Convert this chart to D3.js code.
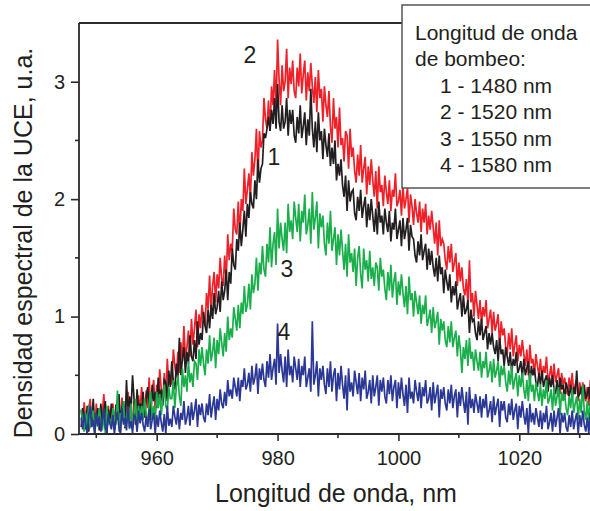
<!DOCTYPE html>
<html lang="es">
<head>
    <meta charset="UTF-8">
    <title>Densidad espectral de la UCE</title>
    <script src="https://d3js.org/d3.v7.min.js"></script>
    <style>
        body {
            margin: 0;
            background: #fff;
        }
        svg {
            display: block;
            font-family: "Liberation Sans", Arial, sans-serif;
        }
    </style>
</head>
<body>
    <svg id="chart" width="590" height="511"></svg>

    <script>
        // sampling grid of the spectra, nm (one row below = 5 nm)
        const waveStart = 947.5;
        const waveStep = 0.25;

        // 1 - 1480 nm (black)
        const serie1 = [
            0.06, 0.22, 0.14, 0.04, 0.24, 0.02, 0.20, 0.12, 0.30, 0.06, 0.14, 0.22, 0.03, 0.26, 0.09, 0.18, 0.28, 0.00, 0.21, 0.10,
            0.26, 0.14, 0.06, 0.25, 0.12, 0.34, 0.10, 0.22, 0.28, 0.05, 0.46, 0.16, 0.32, 0.20, 0.50, 0.30, 0.08, 0.38, 0.18, 0.26,
            0.20, 0.36, 0.14, 0.30, 0.40, 0.24, 0.12, 0.42, 0.28, 0.36, 0.22, 0.48, 0.30, 0.38, 0.24, 0.46, 0.44, 0.28, 0.54, 0.40,
            0.62, 0.44, 0.38, 0.60, 0.48, 0.82, 0.50, 0.64, 0.74, 0.52, 0.70, 0.60, 0.84, 0.66, 0.62, 0.80, 0.64, 0.96, 0.76, 0.86,
            0.80, 1.04, 0.92, 0.86, 1.06, 0.90, 1.10, 0.98, 1.20, 1.02, 1.08, 1.22, 1.04, 1.30, 1.14, 1.22, 1.40, 1.14, 1.38, 1.28,
            1.58, 1.44, 1.40, 1.66, 1.56, 1.80, 1.60, 1.74, 1.90, 1.68, 1.96, 1.84, 2.06, 1.96, 1.92, 2.16, 2.00, 2.34, 2.14, 2.26,
            2.30, 2.56, 2.52, 2.60, 2.70, 2.58, 2.76, 2.64, 2.86, 2.60, 2.98, 2.66, 2.58, 2.80, 2.60, 2.66, 2.86, 2.54, 2.76, 2.64,
            2.76, 2.54, 2.48, 2.70, 2.56, 2.80, 2.52, 2.62, 2.74, 2.46, 2.68, 2.54, 2.94, 2.60, 2.44, 2.66, 2.40, 2.74, 2.50, 2.58,
            2.34, 2.60, 2.46, 2.36, 2.56, 2.28, 2.44, 2.30, 2.50, 2.16, 2.30, 2.20, 2.34, 2.12, 2.02, 2.20, 1.90, 2.16, 1.98, 2.06,
            2.08, 1.88, 1.82, 2.02, 1.90, 2.08, 1.84, 1.94, 2.02, 1.76, 1.96, 1.82, 2.00, 1.86, 1.72, 1.92, 1.70, 1.98, 1.80, 1.86,
            1.70, 1.92, 1.80, 1.72, 1.90, 1.64, 1.80, 1.74, 1.92, 1.66, 1.74, 1.82, 1.60, 1.84, 1.66, 1.74, 1.84, 1.56, 1.78, 1.68,
            1.66, 1.52, 1.46, 1.64, 1.52, 1.70, 1.48, 1.56, 1.62, 1.40, 1.58, 1.44, 1.56, 1.42, 1.34, 1.50, 1.30, 1.52, 1.36, 1.42,
            1.20, 1.40, 1.30, 1.22, 1.36, 1.12, 1.26, 1.18, 1.30, 1.06, 1.14, 1.20, 1.00, 1.18, 1.02, 1.06, 1.14, 0.86, 1.06, 0.96,
            0.98, 0.86, 0.80, 0.96, 0.84, 0.98, 0.80, 0.86, 0.92, 0.72, 0.86, 0.76, 0.86, 0.74, 0.68, 0.80, 0.62, 0.82, 0.68, 0.72,
            0.58, 0.74, 0.66, 0.58, 0.70, 0.52, 0.64, 0.58, 0.70, 0.52, 0.56, 0.62, 0.48, 0.64, 0.50, 0.56, 0.62, 0.42, 0.58, 0.50,
            0.56, 0.44, 0.40, 0.52, 0.42, 0.54, 0.40, 0.46, 0.50, 0.36, 0.48, 0.40, 0.50, 0.38, 0.34, 0.46, 0.32, 0.48, 0.38, 0.42,
            0.30, 0.44, 0.38, 0.32, 0.42, 0.30, 0.40, 0.34, 0.54, 0.32, 0.34, 0.40, 0.28, 0.42, 0.30, 0.34, 0.40, 0.24, 0.38, 0.32
        ];

        // 2 - 1520 nm (red)
        const serie2 = [
            0.20, 0.08, 0.27, 0.12, 0.02, 0.21, 0.30, 0.06, 0.16, 0.00, 0.26, 0.11, 0.22, 0.03, 0.18, 0.34, 0.09, 0.04, 0.24, 0.13,
            0.11, 0.26, 0.03, 0.20, 0.29, 0.13, 0.02, 0.31, 0.16, 0.24, 0.09, 0.36, 0.12, 0.21, 0.06, 0.28, 0.25, 0.10, 0.33, 0.19,
            0.40, 0.24, 0.14, 0.37, 0.22, 0.48, 0.20, 0.36, 0.46, 0.18, 0.42, 0.30, 0.55, 0.38, 0.28, 0.52, 0.30, 0.64, 0.42, 0.50,
            0.42, 0.72, 0.58, 0.48, 0.70, 0.52, 0.78, 0.62, 0.92, 0.64, 0.74, 0.88, 0.66, 0.98, 0.76, 0.90, 1.06, 0.74, 1.02, 0.90,
            1.10, 0.98, 0.92, 1.20, 1.06, 1.35, 1.06, 1.26, 1.38, 1.12, 1.36, 1.24, 1.50, 1.32, 1.26, 1.52, 1.30, 1.70, 1.48, 1.62,
            1.56, 1.92, 1.74, 1.70, 1.98, 1.68, 2.00, 1.90, 2.26, 1.96, 2.08, 2.22, 2.00, 2.40, 2.20, 2.34, 2.60, 2.18, 2.58, 2.44,
            2.50, 2.86, 2.68, 2.60, 2.84, 2.58, 2.96, 2.80, 3.10, 2.76, 3.36, 3.02, 2.80, 3.14, 2.92, 3.00, 3.28, 2.86, 3.12, 2.98,
            3.18, 2.92, 2.86, 3.12, 2.96, 3.24, 2.90, 3.06, 3.18, 2.84, 3.08, 2.92, 3.16, 2.96, 2.82, 3.04, 2.74, 3.10, 2.86, 2.94,
            2.66, 2.96, 2.80, 2.70, 2.92, 2.62, 2.48, 2.86, 2.60, 2.70, 2.44, 2.78, 2.46, 2.52, 2.32, 2.58, 2.54, 2.26, 2.60, 2.36,
            2.44, 2.24, 2.14, 2.38, 2.20, 2.46, 2.14, 2.26, 2.36, 2.04, 2.28, 2.12, 2.34, 2.16, 2.02, 2.24, 1.92, 2.28, 2.06, 2.12,
            1.94, 2.20, 2.06, 1.96, 2.16, 1.90, 2.08, 2.02, 2.22, 1.94, 1.98, 2.08, 1.86, 2.12, 1.92, 2.00, 2.10, 1.80, 2.04, 1.94,
            1.78, 2.00, 1.88, 1.80, 1.98, 1.72, 1.92, 1.80, 1.96, 1.70, 1.86, 1.74, 1.90, 1.76, 1.62, 1.80, 1.52, 1.82, 1.60, 1.66,
            1.62, 1.48, 1.40, 1.60, 1.46, 1.62, 1.38, 1.46, 1.54, 1.26, 1.46, 1.30, 1.42, 1.24, 1.18, 1.32, 1.10, 1.48, 1.12, 1.20,
            1.00, 1.22, 1.10, 0.98, 1.14, 0.94, 1.08, 1.00, 1.14, 0.90, 0.98, 1.06, 0.86, 1.04, 0.88, 0.94, 1.02, 0.74, 0.96, 0.84,
            0.90, 0.74, 0.68, 0.86, 0.72, 0.90, 0.66, 0.76, 0.84, 0.62, 0.76, 0.66, 0.80, 0.68, 0.58, 0.72, 0.50, 0.76, 0.60, 0.64,
            0.50, 0.68, 0.58, 0.50, 0.64, 0.46, 0.58, 0.52, 0.66, 0.44, 0.50, 0.58, 0.42, 0.60, 0.44, 0.50, 0.56, 0.34, 0.52, 0.42,
            0.48, 0.36, 0.34, 0.48, 0.38, 0.52, 0.34, 0.42, 0.46, 0.28, 0.44, 0.34, 0.44, 0.32, 0.28, 0.40, 0.24, 0.46, 0.32, 0.36
        ];

        // 3 - 1550 nm (green)
        const serie3 = [
            0.21, 0.09, 0.02, 0.18, 0.07, 0.25, 0.05, 0.15, 0.20, 0.00, 0.16, 0.06, 0.22, 0.11, 0.03, 0.17, 0.00, 0.24, 0.08, 0.13,
            0.06, 0.22, 0.13, 0.08, 0.37, 0.02, 0.18, 0.11, 0.28, 0.06, 0.14, 0.22, 0.04, 0.26, 0.10, 0.16, 0.30, 0.02, 0.24, 0.12,
            0.24, 0.12, 0.30, 0.18, 0.06, 0.26, 0.36, 0.14, 0.24, 0.10, 0.36, 0.22, 0.34, 0.16, 0.30, 0.42, 0.24, 0.20, 0.40, 0.30,
            0.30, 0.46, 0.22, 0.40, 0.50, 0.32, 0.24, 0.56, 0.40, 0.50, 0.36, 0.62, 0.44, 0.52, 0.40, 0.62, 0.60, 0.46, 0.72, 0.58,
            0.74, 0.60, 0.50, 0.72, 0.60, 0.84, 0.62, 0.70, 0.82, 0.56, 0.80, 0.68, 0.90, 0.78, 0.66, 0.86, 0.70, 1.00, 0.80, 0.90,
            0.82, 1.08, 0.98, 0.88, 1.10, 0.90, 1.12, 1.02, 1.26, 1.04, 1.10, 1.28, 1.06, 1.36, 1.20, 1.28, 1.50, 1.22, 1.46, 1.36,
            1.60, 1.40, 1.34, 1.62, 1.46, 1.76, 1.42, 1.62, 1.72, 1.44, 1.92, 1.58, 1.80, 1.66, 1.56, 1.80, 1.54, 1.96, 1.72, 1.82,
            1.66, 1.98, 1.84, 1.72, 1.96, 1.64, 1.90, 1.80, 2.04, 1.70, 1.78, 1.92, 1.62, 2.06, 1.74, 1.84, 1.98, 1.58, 1.88, 1.76,
            1.86, 1.62, 1.52, 1.80, 1.62, 1.90, 1.56, 1.66, 1.76, 1.44, 1.70, 1.52, 1.74, 1.56, 1.40, 1.62, 1.34, 1.70, 1.46, 1.54,
            1.38, 1.58, 1.26, 1.50, 1.60, 1.36, 1.24, 1.58, 1.40, 1.48, 1.30, 1.56, 1.32, 1.42, 1.26, 1.46, 1.42, 1.22, 1.50, 1.34,
            1.40, 1.24, 1.14, 1.38, 1.22, 1.44, 1.16, 1.30, 1.38, 1.10, 1.30, 1.18, 1.36, 1.20, 1.08, 1.26, 1.02, 1.34, 1.14, 1.20,
            1.00, 1.22, 1.12, 1.02, 1.18, 0.94, 1.10, 1.02, 1.18, 0.92, 0.98, 1.06, 0.86, 1.08, 0.90, 0.96, 1.04, 0.76, 0.98, 0.88,
            0.96, 0.80, 0.74, 0.92, 0.78, 0.96, 0.74, 0.82, 0.88, 0.66, 0.84, 0.72, 0.52, 0.74, 0.64, 0.80, 0.58, 0.82, 0.64, 0.70,
            0.54, 0.72, 0.62, 0.54, 0.70, 0.48, 0.62, 0.56, 0.70, 0.48, 0.54, 0.62, 0.44, 0.64, 0.48, 0.54, 0.62, 0.40, 0.58, 0.50,
            0.58, 0.44, 0.36, 0.54, 0.42, 0.58, 0.38, 0.46, 0.52, 0.32, 0.50, 0.40, 0.52, 0.38, 0.30, 0.46, 0.28, 0.52, 0.36, 0.42,
            0.28, 0.44, 0.36, 0.28, 0.42, 0.24, 0.38, 0.30, 0.46, 0.26, 0.30, 0.38, 0.20, 0.40, 0.24, 0.32, 0.40, 0.16, 0.36, 0.28,
            0.34, 0.22, 0.16, 0.32, 0.22, 0.38, 0.18, 0.26, 0.32, 0.12, 0.30, 0.18, 0.42, 0.20, 0.12, 0.28, 0.08, 0.30, 0.16, 0.22
        ];

        // 4 - 1580 nm (blue)
        const serie4 = [
            0.14, 0.04, 0.18, 0.08, 0.00, 0.16, 0.24, 0.06, 0.12, 0.00, 0.18, 0.07, 0.15, 0.02, 0.11, 0.22, 0.05, 0.02, 0.17, 0.09,
            0.04, 0.16, 0.00, 0.12, 0.19, 0.06, 0.00, 0.22, 0.08, 0.14, 0.03, 0.24, 0.05, 0.11, 0.01, 0.16, 0.14, 0.02, 0.20, 0.09,
            0.18, 0.08, 0.02, 0.15, 0.06, 0.21, 0.04, 0.12, 0.18, 0.00, 0.16, 0.06, 0.20, 0.10, 0.02, 0.17, 0.00, 0.24, 0.07, 0.13,
            0.06, 0.24, 0.15, 0.08, 0.22, 0.04, 0.18, 0.12, 0.28, 0.08, 0.14, 0.24, 0.07, 0.27, 0.12, 0.20, 0.30, 0.06, 0.25, 0.16,
            0.26, 0.14, 0.10, 0.26, 0.16, 0.34, 0.14, 0.24, 0.32, 0.12, 0.30, 0.20, 0.38, 0.26, 0.22, 0.36, 0.24, 0.46, 0.32, 0.38,
            0.30, 0.48, 0.40, 0.32, 0.48, 0.28, 0.46, 0.40, 0.56, 0.38, 0.42, 0.52, 0.36, 0.58, 0.42, 0.48, 0.60, 0.34, 0.56, 0.46,
            0.60, 0.46, 0.40, 0.62, 0.48, 0.68, 0.46, 0.56, 0.64, 0.42, 0.94, 0.52, 0.68, 0.54, 0.44, 0.66, 0.40, 0.72, 0.50, 0.58,
            0.44, 0.66, 0.56, 0.46, 0.64, 0.40, 0.58, 0.50, 0.66, 0.40, 0.48, 0.56, 0.36, 0.96, 0.42, 0.50, 0.62, 0.32, 0.56, 0.46,
            0.58, 0.42, 0.34, 0.56, 0.40, 0.62, 0.36, 0.50, 0.56, 0.28, 0.52, 0.38, 0.58, 0.42, 0.30, 0.50, 0.20, 0.56, 0.36, 0.44,
            0.32, 0.54, 0.44, 0.34, 0.52, 0.28, 0.48, 0.38, 0.54, 0.30, 0.36, 0.46, 0.26, 0.50, 0.32, 0.40, 0.50, 0.24, 0.46, 0.36,
            0.48, 0.32, 0.26, 0.46, 0.34, 0.50, 0.28, 0.40, 0.46, 0.22, 0.44, 0.30, 0.48, 0.34, 0.24, 0.42, 0.18, 0.48, 0.30, 0.36,
            0.26, 0.46, 0.36, 0.28, 0.44, 0.22, 0.40, 0.32, 0.46, 0.26, 0.30, 0.40, 0.20, 0.44, 0.26, 0.34, 0.42, 0.14, 0.38, 0.30,
            0.40, 0.26, 0.20, 0.38, 0.26, 0.42, 0.22, 0.32, 0.38, 0.14, 0.36, 0.24, 0.40, 0.28, 0.18, 0.36, 0.08, 0.40, 0.22, 0.30,
            0.18, 0.34, 0.26, 0.18, 0.32, 0.14, 0.30, 0.22, 0.34, 0.14, 0.20, 0.28, 0.10, 0.32, 0.16, 0.24, 0.30, 0.06, 0.28, 0.20,
            0.28, 0.14, 0.10, 0.26, 0.16, 0.30, 0.12, 0.20, 0.26, 0.04, 0.24, 0.14, 0.28, 0.16, 0.08, 0.22, 0.00, 0.26, 0.10, 0.18,
            0.08, 0.22, 0.14, 0.06, 0.20, 0.04, 0.18, 0.10, 0.24, 0.04, 0.10, 0.18, 0.02, 0.20, 0.06, 0.14, 0.22, 0.00, 0.18, 0.10,
            0.18, 0.06, 0.02, 0.16, 0.06, 0.20, 0.04, 0.12, 0.18, 0.00, 0.16, 0.06, 0.20, 0.08, 0.02, 0.14, 0.00, 0.18, 0.06, 0.12
        ];

        const xTicks = [960, 980, 1000, 1020];
        const xMinorTicks = [950, 970, 990, 1010, 1030];
        const yTicks = [0, 1, 2, 3];
        const yMinorTicks = [0.5, 1.5, 2.5];

        const legendLines = ['Longitud de onda', 'de bombeo:'];
        const legendItems = ['1 - 1480 nm', '2 - 1520 nm', '3 - 1550 nm', '4 - 1580 nm'];

        // drawing order: red, black, green, blue on top
        const series = [
            { name: '2', values: serie2, color: '#ee2129', label: [250, 63] },
            { name: '1', values: serie1, color: '#231f20', label: [274, 165] },
            { name: '3', values: serie3, color: '#1aaf4b', label: [287, 277] },
            { name: '4', values: serie4, color: '#2b3896', label: [284, 340] }
        ];

        const svg = d3.select('#chart');
        const axisColor = '#2b2b2b';
        const textColor = '#231f20';

        const x = d3.scaleLinear().domain([947.14, 1031.7]).range([79, 590]);
        const y = d3.scaleLinear().domain([0, 3.5]).range([434, 23]);

        svg.append('clipPath').attr('id', 'plotClip')
            .append('rect')
            .attr('x', 79).attr('y', 23)
            .attr('width', 511).attr('height', 411);

        const line = d3.line()
            .x((d, i) => x(waveStart + i * waveStep))
            .y(d => y(d));

        const plot = svg.append('g').attr('clip-path', 'url(#plotClip)');
        series.forEach(s => {
            plot.append('path')
                .datum(s.values)
                .attr('d', line)
                .attr('fill', 'none')
                .attr('stroke', s.color)
                .attr('stroke-width', 1.7);
        });

        // axes
        const xAxis = svg.append('g')
            .attr('transform', 'translate(0,434)')
            .call(d3.axisBottom(x).tickValues(xTicks).tickSize(7).tickPadding(10).tickFormat(d3.format('d')));
        xAxis.append('g').selectAll('line')
            .data(xMinorTicks).join('line')
            .attr('x1', d => x(d)).attr('x2', d => x(d))
            .attr('y1', 0).attr('y2', 4);

        const yAxis = svg.append('g')
            .attr('transform', 'translate(79,0)')
            .call(d3.axisLeft(y).tickValues(yTicks).tickSize(8).tickPadding(6).tickFormat(d3.format('d')));
        yAxis.append('g').selectAll('line')
            .data(yMinorTicks).join('line')
            .attr('x1', 0).attr('x2', -4)
            .attr('y1', d => y(d)).attr('y2', d => y(d));

        [xAxis, yAxis].forEach(ax => {
            ax.select('.domain').remove();
            ax.selectAll('line').attr('stroke', axisColor).attr('stroke-width', 1.6);
            ax.selectAll('text')
                .attr('fill', textColor)
                .style('font-size', '20px')
                .style('font-family', '"Liberation Sans", Arial, sans-serif');
        });

        // frame: bottom, left and top
        svg.append('path')
            .attr('d', `M79,23 V434 H590 M79,23 H402`)
            .attr('fill', 'none')
            .attr('stroke', axisColor)
            .attr('stroke-width', 1.8);

        // axis titles
        svg.append('text')
            .attr('x', 336).attr('y', 502)
            .attr('text-anchor', 'middle')
            .attr('fill', textColor)
            .style('font-size', '25px')
            .text('Longitud de onda, nm');

        svg.append('text')
            .attr('transform', 'translate(32,243) rotate(-90)')
            .attr('text-anchor', 'middle')
            .attr('fill', textColor)
            .style('font-size', '25px')
            .text('Densidad espectral de la UCE, u.a.');

        // curve numbers
        svg.append('g').selectAll('text')
            .data(series).join('text')
            .attr('x', d => d.label[0]).attr('y', d => d.label[1])
            .attr('text-anchor', 'middle')
            .attr('fill', textColor)
            .style('font-size', '23px')
            .text(d => d.name);

        // legend box
        const legend = svg.append('g');
        legend.append('rect')
            .attr('x', 402).attr('y', 5)
            .attr('width', 200).attr('height', 183)
            .attr('fill', '#fff')
            .attr('stroke', '#555')
            .attr('stroke-width', 1.5);
        legend.selectAll('text.head')
            .data(legendLines).join('text')
            .attr('class', 'head')
            .attr('x', 415).attr('y', (d, i) => 40 + i * 26.4)
            .attr('fill', textColor)
            .style('font-size', '21px')
            .text(d => d);
        legend.selectAll('text.item')
            .data(legendItems).join('text')
            .attr('class', 'item')
            .attr('x', 440).attr('y', (d, i) => 93 + i * 26.4)
            .attr('fill', textColor)
            .style('font-size', '21px')
            .text(d => d);
    </script>
</body>
</html>
